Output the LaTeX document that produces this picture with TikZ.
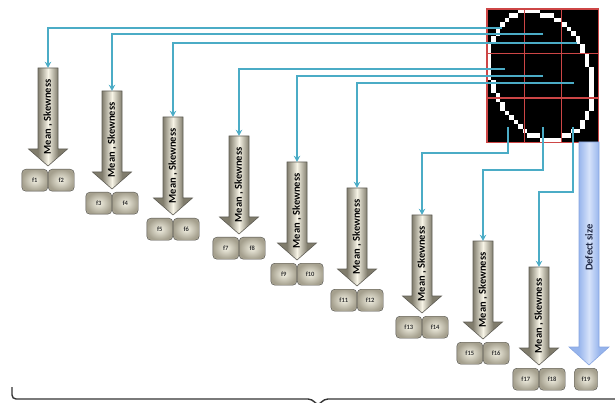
\documentclass[tikz,border=0pt]{standalone}
\usepackage{fontspec}
\setmainfont{Carlito}
\usetikzlibrary{arrows.meta,calc,positioning}

\definecolor{linkblue}{RGB}{75,172,198}
\definecolor{gridred}{RGB}{205,70,70}
\definecolor{featedge}{RGB}{128,124,108}
\definecolor{featmid}{RGB}{247,244,230}
\definecolor{featline}{RGB}{95,93,85}
\definecolor{boxin}{RGB}{242,240,226}
\definecolor{boxout}{RGB}{165,160,142}
\definecolor{boxline}{RGB}{80,80,75}
\definecolor{defedge}{RGB}{150,180,236}
\definecolor{defmid}{RGB}{214,226,250}
\definecolor{defline}{RGB}{135,165,225}
\definecolor{deftext}{RGB}{30,40,70}

\pgfdeclarehorizontalshading{featshade}{100bp}{color(0bp)=(featedge); color(37bp)=(featedge); color(50bp)=(featmid); color(63bp)=(featedge); color(100bp)=(featedge)}
\pgfdeclarehorizontalshading{defshade}{100bp}{color(0bp)=(defedge); color(37bp)=(defedge); color(50bp)=(defmid); color(63bp)=(defedge); color(100bp)=(defedge)}

% outline of the defect, in pixels of the 25x30 image
\pgfmathdeclarefunction{eggr}{2}{%
  \begingroup
  \pgfmathsetmacro\eggp{((#1+0.5-12.2)*0.3746+(#2+0.5-15)*0.9272)/15.3}%
  \pgfmathsetmacro\eggq{((#1+0.5-12.2)*0.9272-(#2+0.5-15)*0.3746)/11.5}%
  \pgfmathparse{\eggp*\eggp+\eggq*\eggq}%
  \pgfmathsmuggle\pgfmathresult
  \endgroup}

\begin{document}
\begin{tikzpicture}[x=1pt, y=-1pt,
    meanarrow/.style={rotate=90, minimum width=98pt, minimum height=20pt, inner sep=0pt, font=\bfseries\fontsize{10.5}{11}\selectfont},
    featbox/.style={draw=boxline, rounded corners=4pt, inner color=boxin, outer color=boxout, minimum width=26pt, minimum height=22pt, inner sep=0pt, font=\bfseries\fontsize{6.5}{7}\selectfont, text=black!80},
    link/.style={linkblue, line width=1.5pt, -{Stealth[length=6pt, width=6.5pt]}}]

    \useasboundingbox (0,0) rectangle (615,403);
    \clip (0,0) rectangle (615,403);

    % defect image
    \node[fill=black, minimum width=111pt, minimum height=133pt, inner sep=0pt, anchor=north west] (img) at (487,9) {};
    \foreach \i in {0,...,24}{
        \foreach \j in {0,...,29}{
            \pgfmathtruncatemacro{\onedge}{and(eggr(\i,\j)<1, max(eggr(\i-1,\j),eggr(\i+1,\j),eggr(\i,\j-1),eggr(\i,\j+1))>=1)}
            \ifnum\onedge=1
                \fill[white] ({487+4.44*\i},{9+4.433*\j}) rectangle ++(4.44,4.433);
            \fi
        }
    }
    \draw[gridred, line width=1.2pt] ($(img.north west)!1/3!(img.north east)$) -- ($(img.south west)!1/3!(img.south east)$);
    \draw[gridred, line width=1.2pt] ($(img.north west)!2/3!(img.north east)$) -- ($(img.south west)!2/3!(img.south east)$);
    \draw[gridred, line width=1.2pt] ($(img.north west)!1/3!(img.south west)$) -- ($(img.north east)!1/3!(img.south east)$);
    \draw[gridred, line width=1.2pt] ($(img.north west)!2/3!(img.south west)$) -- ($(img.north east)!2/3!(img.south east)$);
    \draw[gridred, line width=1.2pt] (img.north west) rectangle (img.south east);

    % mean / skewness arrows and their features
    \foreach \n/\x/\ytop [evaluate=\n as \fa using int(2*\n-1), evaluate=\n as \fb using int(2*\n)] in
        {1/48/68, 2/112/91, 3/173/117, 4/239/136, 5/297/162, 6/357/188, 7/422/215, 8/483/241, 9/539/267}{
        \shadedraw[shading=featshade, draw=featline, line width=0.6pt]
            ({\x-10},\ytop) -- ({\x-10},{\ytop+81}) -- ({\x-19.5},{\ytop+81}) -- (\x,{\ytop+98})
            -- ({\x+19.5},{\ytop+81}) -- ({\x+10},{\ytop+81}) -- ({\x+10},\ytop) -- cycle;
        \node[meanarrow] (a\n) at (\x,{\ytop+49}) {Mean , Skewness};
        \node[featbox, anchor=north east] (f\fa) at (\x,{\ytop+101}) {f\fa};
        \node[featbox, anchor=north west] (f\fb) at (\x,{\ytop+101}) {f\fb};
    }

    % defect size
    \shadedraw[shading=defshade, draw=defline, line width=0.6pt]
        (579,142) -- (579,347) -- (569,347) -- (589,365) -- (609,347) -- (599,347) -- (599,142) -- cycle;
    \node[meanarrow, minimum width=211pt, text=deftext] (ds) at (589,247.5) {Defect size};
    \node[featbox, minimum width=23pt, anchor=north] (f19) at (586,368) {f19};

    % links from the image regions
    \coordinate (s1) at (502,28);
    \coordinate (s2) at (543,34);
    \coordinate (s3) at (577,43);
    \coordinate (s4) at (505,69);
    \coordinate (s5) at (543,76);
    \coordinate (s6) at (574,83);
    \coordinate (s7) at (508,127);
    \coordinate (s8) at (543,127);
    \coordinate (s9) at (573,127);

    \draw[link] (s1) -| (a1.east);
    \draw[link] (s2) -| (a2.east);
    \draw[link] (s3) -| (a3.east);
    \draw[link] (s4) -| (a4.east);
    \draw[link] (s5) -| (a5.east);
    \draw[link] (s6) -| (a6.east);
    \draw[link] (s7) -- ++(0,26) -| (a7.east);
    \draw[link] (s8) -- ++(0,43) -| (a8.east);
    \draw[link] (s9) -- ++(0,65) -| (a9.east);

    % brace under everything
    \coordinate (br1) at (12,387);
    \coordinate (brm) at (318,399);
    \coordinate (br2) at (630,399);
    \draw[black!80, line width=1.4pt, rounded corners=4pt]
        (br1) |- ($(brm)+(-6,0)$) -- ($(brm)+(0,7)$) -- ($(brm)+(6,0)$) -- (br2);
\end{tikzpicture}
\end{document}
